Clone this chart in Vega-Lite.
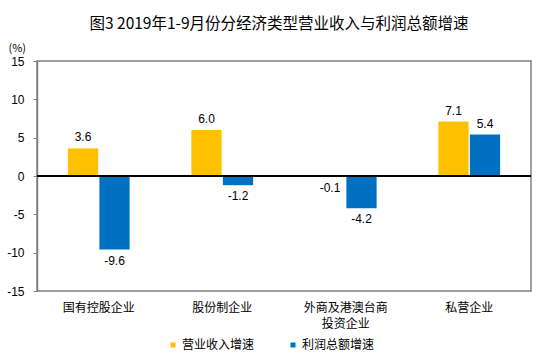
{
  "$schema": "https://vega.github.io/schema/vega-lite/v6.json",
  "width": 494,
  "height": 230,
  "autosize": {"type": "none"},
  "padding": {"left": 37, "top": 61, "right": 19, "bottom": 69},
  "background": "white",
  "config": {
    "font": "Liberation Sans",
    "view": {"stroke": "#808080", "strokeWidth": 1.5},
    "axisY": {
      "labelOverlap": false,
      "labelBound": false,
      "labelFlush": false,
      "labelExpr": "replace(format(datum.value, 'd'), '−', '-')",
      "grid": false,
      "titleAngle": 0,
      "titleAlign": "left",
      "titleBaseline": "middle",
      "titleX": -29,
      "titleY": -13,
      "titleFont": "Noto Sans CJK SC",
      "titleFontSize": 11,
      "titleFontWeight": "normal",
      "titleColor": "black",
      "domainColor": "#808080",
      "domainWidth": 1.5,
      "tickColor": "#808080",
      "tickSize": 4,
      "labelPadding": 9,
      "labelFontSize": 12,
      "labelColor": "black"
    },
    "axisX": {
      "labelAngle": 0,
      "ticks": false,
      "domain": false,
      "labelPadding": 11,
      "labelFont": "Noto Sans CJK SC",
      "labelFontSize": 12,
      "labelColor": "black",
      "labelLineHeight": 16,
      "labelBaseline": "top",
      "labelExpr": "datum.label == '外商及港澳台商投资企业' ? ['外商及港澳台商', '投资企业'] : datum.label"
    }
  },
  "title": {
    "text": "图3 2019年1-9月份分经济类型营业收入与利润总额增速",
    "font": "Noto Sans CJK SC",
    "fontSize": 15.5,
    "fontWeight": "normal",
    "color": "black",
    "anchor": "middle",
    "dx": -5,
    "offset": 10
  },
  "data": {
    "values": [
      {"category": "国有控股企业", "series": "营业收入增速", "value": 3.6},
      {"category": "国有控股企业", "series": "利润总额增速", "value": -9.6},
      {"category": "股份制企业", "series": "营业收入增速", "value": 6.0},
      {"category": "股份制企业", "series": "利润总额增速", "value": -1.2},
      {"category": "外商及港澳台商投资企业", "series": "营业收入增速", "value": -0.1},
      {"category": "外商及港澳台商投资企业", "series": "利润总额增速", "value": -4.2},
      {"category": "私营企业", "series": "营业收入增速", "value": 7.1},
      {"category": "私营企业", "series": "利润总额增速", "value": 5.4}
    ]
  },
  "layer": [
    {
      "mark": {"type": "bar"},
      "encoding": {
        "x": {
          "field": "category",
          "type": "nominal",
          "sort": ["国有控股企业", "股份制企业", "外商及港澳台商投资企业", "私营企业"],
          "scale": {"paddingInner": 0.5, "paddingOuter": 0.25},
          "axis": {"title": null}
        },
        "xOffset": {
          "field": "series",
          "sort": ["营业收入增速", "利润总额增速"],
          "scale": {"paddingInner": 0.04}
        },
        "y": {
          "field": "value",
          "type": "quantitative",
          "scale": {"domain": [-15, 15], "nice": false},
          "axis": {"title": "(%)", "values": [-15, -10, -5, 0, 5, 10, 15]}
        },
        "color": {
          "field": "series",
          "type": "nominal",
          "scale": {"domain": ["营业收入增速", "利润总额增速"], "range": ["#FFC000", "#0070C0"]},
          "legend": {
            "orient": "none",
            "direction": "horizontal",
            "legendX": 130,
            "legendY": 278,
            "title": null,
            "padding": 0,
            "symbolType": "square",
            "symbolSize": 25,
            "symbolStrokeWidth": 0,
            "labelOffset": 3,
            "columnPadding": 32,
            "labelFont": "Noto Sans CJK SC",
            "labelFontSize": 12,
            "labelColor": "black"
          }
        }
      }
    },
    {
      "mark": {"type": "rule", "color": "black", "strokeWidth": 1},
      "encoding": {"y": {"datum": 0, "axis": {"title": "(%)", "values": [-15, -10, -5, 0, 5, 10, 15]}}}
    },
    {
      "transform": [{"filter": "datum.value >= 0"}],
      "mark": {"type": "text", "baseline": "bottom", "dy": -4, "fontSize": 12, "color": "black", "text": {"expr": "replace(format(datum.value, '.1f'), '−', '-')"}},
      "encoding": {
        "x": {"field": "category", "type": "nominal", "sort": ["国有控股企业", "股份制企业", "外商及港澳台商投资企业", "私营企业"], "axis": {"title": null}},
        "xOffset": {"field": "series", "sort": ["营业收入增速", "利润总额增速"]},
        "y": {"field": "value", "type": "quantitative", "axis": {"title": "(%)", "values": [-15, -10, -5, 0, 5, 10, 15]}}
      }
    },
    {
      "transform": [{"filter": "datum.value < 0"}],
      "mark": {"type": "text", "baseline": "top", "dy": 6, "fontSize": 12, "color": "black", "text": {"expr": "replace(format(datum.value, '.1f'), '−', '-')"}},
      "encoding": {
        "x": {"field": "category", "type": "nominal", "sort": ["国有控股企业", "股份制企业", "外商及港澳台商投资企业", "私营企业"], "axis": {"title": null}},
        "xOffset": {"field": "series", "sort": ["营业收入增速", "利润总额增速"]},
        "y": {"field": "value", "type": "quantitative", "axis": {"title": "(%)", "values": [-15, -10, -5, 0, 5, 10, 15]}}
      }
    }
  ]
}
